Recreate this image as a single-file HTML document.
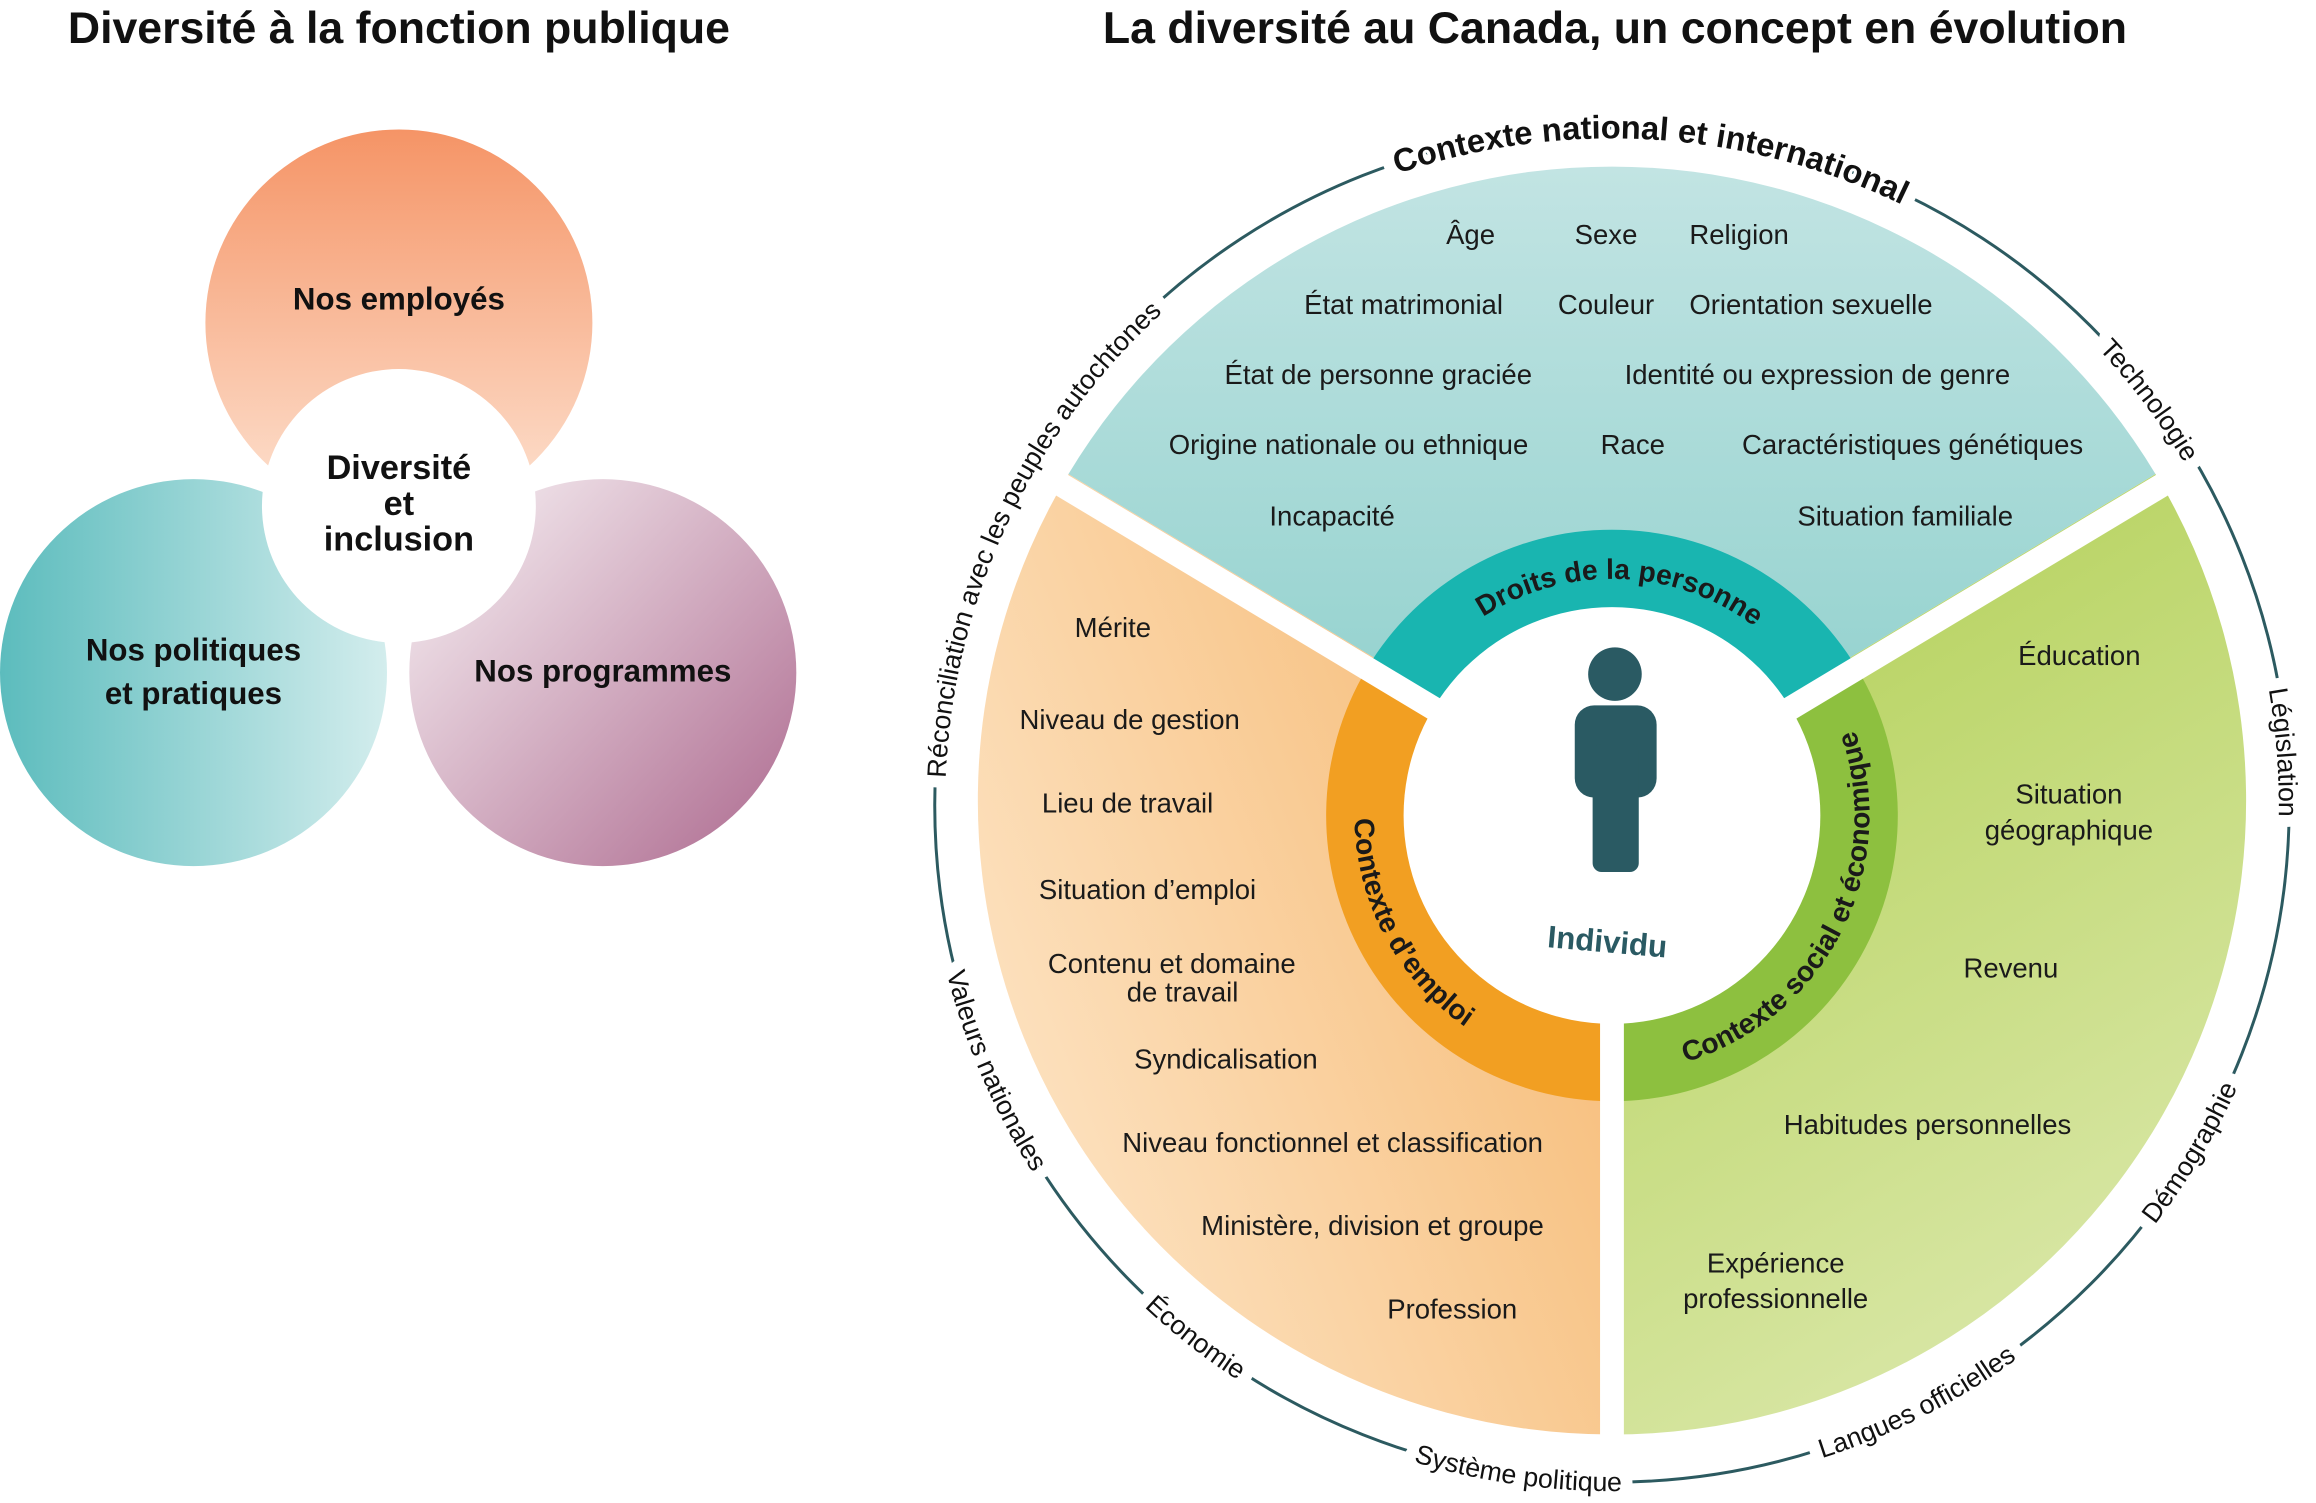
<!DOCTYPE html>
<html><head><meta charset="utf-8"><style>
html,body{margin:0;padding:0;background:#fff;}
svg{display:block;font-family:"Liberation Sans",sans-serif;}
</style></head><body>
<svg width="2316" height="1503" viewBox="0 0 1556 1010" preserveAspectRatio="none" xmlns="http://www.w3.org/2000/svg">
<defs>
<linearGradient id="gOr" x1="0" y1="0" x2="0" y2="1"><stop offset="0" stop-color="#f59466"/><stop offset="1" stop-color="#fde3d2"/></linearGradient>
<linearGradient id="gTe" x1="0" y1="0" x2="1" y2="0"><stop offset="0" stop-color="#5cbcbd"/><stop offset="1" stop-color="#d3eded"/></linearGradient>
<linearGradient id="gPu" x1="0.15" y1="0.15" x2="0.9" y2="0.85"><stop offset="0" stop-color="#eee0e7"/><stop offset="1" stop-color="#b67a9b"/></linearGradient>
<linearGradient id="sTe" x1="0" y1="0" x2="0" y2="1"><stop offset="0" stop-color="#c2e4e3"/><stop offset="1" stop-color="#8ccfcb"/></linearGradient>
<linearGradient id="sOr" x1="1" y1="0.2" x2="0" y2="0.8"><stop offset="0" stop-color="#f6b870"/><stop offset="1" stop-color="#fde6c8"/></linearGradient>
<linearGradient id="sGr" x1="0.2" y1="0" x2="0.6" y2="1"><stop offset="0" stop-color="#b2d055"/><stop offset="1" stop-color="#dbe8ab"/></linearGradient>
<path id="pTopO" d="M1083,989 A448,448 0 1 1 1083,93 A448,448 0 1 1 1083,989"/>
<path id="pBotO" d="M1083,80 A461,461 0 1 0 1083,1002 A461,461 0 1 0 1083,80"/>
<path id="pTopR" d="M1083,707 A159,159 0 1 1 1083,389 A159,159 0 1 1 1083,707"/>
<path id="pBotR" d="M1083,375 A173,173 0 1 0 1083,721 A173,173 0 1 0 1083,375"/>
</defs>

<text x="268" y="29" font-size="30" font-weight="bold" text-anchor="middle" fill="#111">Diversité à la fonction publique</text>
<text x="1085" y="29" font-size="30" font-weight="bold" text-anchor="middle" fill="#111">La diversité au Canada, un concept en évolution</text>

<circle cx="268" cy="217" r="130" fill="url(#gOr)"/>
<circle cx="130" cy="452" r="130" fill="url(#gTe)"/>
<circle cx="405" cy="452" r="130" fill="url(#gPu)"/>
<circle cx="268" cy="340" r="92" fill="#fff"/>
<g font-size="21" font-weight="bold" fill="#111" text-anchor="middle">
<text x="268" y="208">Nos employés</text>
<text x="130" y="444">Nos politiques</text>
<text x="130" y="473">et pratiques</text>
<text x="405" y="458">Nos programmes</text>
<text x="268" y="322" font-size="23">Diversité</text>
<text x="268" y="346" font-size="23">et</text>
<text x="268" y="370" font-size="23">inclusion</text>
</g>

<circle cx="1083" cy="541" r="455" fill="none" stroke="#2c5a60" stroke-width="2"/>

<path d="M1083,538 L717.8,318.6 A426,426 0 0 1 1448.2,318.6 Z" fill="url(#sTe)"/>
<path d="M1083,538 L1083,964 A426,426 0 0 1 717.8,318.6 Z" fill="url(#sOr)"/>
<path d="M1083,538 L1448.2,318.6 A426,426 0 0 1 1083,964 Z" fill="url(#sGr)"/>
<path d="M1083,548 L918.4,449.1 A192,192 0 0 1 1247.6,449.1 Z" fill="#19b5b0"/>
<path d="M1083,548 L1083,740 A192,192 0 0 1 918.4,449.1 Z" fill="#f29f22"/>
<path d="M1083,548 L1247.6,449.1 A192,192 0 0 1 1083,740 Z" fill="#8dc03f"/>
<g stroke="#fff" stroke-width="16">
<line x1="1083" y1="548" x2="705.8" y2="321.4"/>
<line x1="1083" y1="548" x2="1460.2" y2="321.4"/>
<line x1="1083" y1="548" x2="1083" y2="975"/>
</g>
<circle cx="1083" cy="548" r="140" fill="#fff"/>

<g fill="#2a5a63">
<circle cx="1085" cy="453" r="18"/>
<rect x="1058" y="474" width="55" height="62" rx="13"/>
<rect x="1070" y="500" width="31" height="86" rx="6"/>
</g>
<text x="1080" y="640" font-size="21" font-weight="bold" fill="#2a5a63" text-anchor="middle" transform="rotate(5 1080 632)">Individu</text>

<g font-size="19" font-weight="bold" fill="#1a1a1a" text-anchor="middle">
<text><textPath href="#pTopR" startOffset="50.56%">Droits de la personne</textPath></text>
<text><textPath href="#pBotR" startOffset="32.78%">Contexte d’emploi</textPath></text>
<text><textPath href="#pBotR" startOffset="67.5%">Contexte social et économique</textPath></text>
</g>

<g font-size="18" fill="#fff" text-anchor="middle" stroke="#fff" stroke-width="16" stroke-linejoin="round">
<text font-size="22" font-weight="bold"><textPath href="#pTopO" startOffset="50.97%">Contexte national et international</textPath></text>
<text><textPath href="#pTopO" startOffset="64.72%">Technologie</textPath></text>
<text><textPath href="#pTopO" startOffset="73.75%">Législation</textPath></text>
<text><textPath href="#pTopO" startOffset="31.94%">Réconciliation avec les peuples autochtones</textPath></text>
<text><textPath href="#pBotO" startOffset="66.39%">Démographie</textPath></text>
<text><textPath href="#pBotO" startOffset="57.5%">Langues officielles</textPath></text>
<text><textPath href="#pBotO" startOffset="47.78%">Système politique</textPath></text>
<text><textPath href="#pBotO" startOffset="39.44%">Économie</textPath></text>
<text><textPath href="#pBotO" startOffset="31.47%">Valeurs nationales</textPath></text>
</g>
<g font-size="18" fill="#111" text-anchor="middle">
<text font-size="22" font-weight="bold"><textPath href="#pTopO" startOffset="50.97%">Contexte national et international</textPath></text>
<text><textPath href="#pTopO" startOffset="64.72%">Technologie</textPath></text>
<text><textPath href="#pTopO" startOffset="73.75%">Législation</textPath></text>
<text><textPath href="#pTopO" startOffset="31.94%">Réconciliation avec les peuples autochtones</textPath></text>
<text><textPath href="#pBotO" startOffset="66.39%">Démographie</textPath></text>
<text><textPath href="#pBotO" startOffset="57.5%">Langues officielles</textPath></text>
<text><textPath href="#pBotO" startOffset="47.78%">Système politique</textPath></text>
<text><textPath href="#pBotO" startOffset="39.44%">Économie</textPath></text>
<text><textPath href="#pBotO" startOffset="31.47%">Valeurs nationales</textPath></text>
</g>

<g font-size="18.5" fill="#1a1a1a" text-anchor="middle">
<text x="988" y="164">Âge</text>
<text x="1079" y="164">Sexe</text>
<text x="1135" y="164" text-anchor="start">Religion</text>
<text x="943" y="211">État matrimonial</text>
<text x="1079" y="211">Couleur</text>
<text x="1135" y="211" text-anchor="start">Orientation sexuelle</text>
<text x="926" y="258">État de personne graciée</text>
<text x="1221" y="258">Identité ou expression de genre</text>
<text x="906" y="305">Origine nationale ou ethnique</text>
<text x="1097" y="305">Race</text>
<text x="1285" y="305">Caractéristiques génétiques</text>
<text x="895" y="353">Incapacité</text>
<text x="1280" y="353">Situation familiale</text>
</g>
<g font-size="18.5" fill="#1a1a1a">
<text x="722" y="428">Mérite</text>
<text x="685" y="490">Niveau de gestion</text>
<text x="700" y="546">Lieu de travail</text>
<text x="698" y="604">Situation d’emploi</text>
<text x="704" y="654">Contenu et domaine</text>
<text x="757" y="673">de travail</text>
<text x="762" y="718">Syndicalisation</text>
<text x="754" y="774">Niveau fonctionnel et classification</text>
<text x="807" y="830">Ministère, division et groupe</text>
<text x="932" y="886">Profession</text>
</g>
<g font-size="18.5" fill="#1a1a1a" text-anchor="middle">
<text x="1397" y="447">Éducation</text>
<text x="1390" y="540">Situation</text>
<text x="1390" y="564">géographique</text>
<text x="1351" y="657">Revenu</text>
<text x="1295" y="762">Habitudes personnelles</text>
<text x="1193" y="855">Expérience</text>
<text x="1193" y="879">professionnelle</text>
</g>
</svg>
</body></html>
